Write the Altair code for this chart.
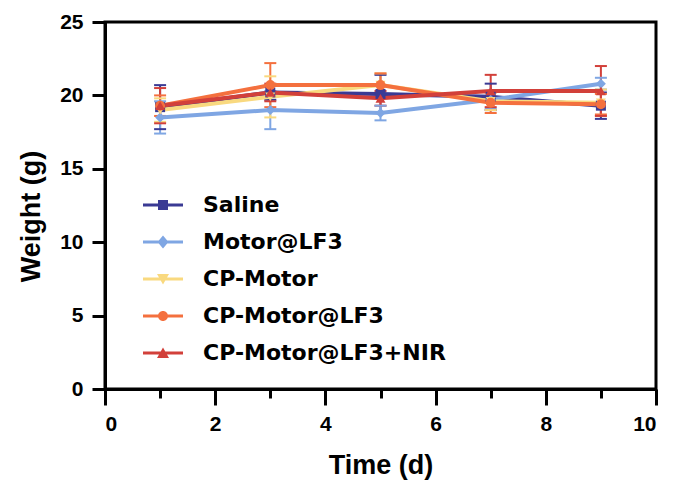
import altair as alt
import pandas as pd

# ---- data ----
days = [1, 3, 5, 7, 9]
series_names = ["Saline", "Motor@LF3", "CP-Motor", "CP-Motor@LF3", "CP-Motor@LF3+NIR"]
saline_mean = [19.2, 20.2, 20.1, 19.9, 19.3]
saline_err = [1.5, 0.5, 1.3, 0.9, 0.9]
motor_mean = [18.5, 19.0, 18.8, 19.7, 20.8]
motor_err = [1.1, 1.3, 0.5, 0.6, 0.4]
cpmotor_mean = [19.0, 19.9, 20.7, 19.6, 19.5]
cpmotor_err = [0.8, 1.4, 0.8, 0.6, 0.9]
cplf3_mean = [19.3, 20.7, 20.7, 19.5, 19.4]
cplf3_err = [0.7, 1.5, 0.8, 0.7, 0.7]
nir_mean = [19.3, 20.2, 19.8, 20.3, 20.3]
nir_err = [1.2, 0.6, 0.5, 1.1, 1.7]

x_ticks = [0, 1, 2, 3, 4, 5, 6, 7, 8, 9, 10]
y_ticks = [0, 2.5, 5, 7.5, 10, 12.5, 15, 17.5, 20, 22.5, 25]

colors = ["#3a3a94", "#7fa6e3", "#f9d97f", "#f4703e", "#d2403a"]
shapes = ["square", "diamond", "triangle-down", "circle", "triangle-up"]

means = [saline_mean, motor_mean, cpmotor_mean, cplf3_mean, nir_mean]
errs = [saline_err, motor_err, cpmotor_err, cplf3_err, nir_err]

rows = []
for k, name in enumerate(series_names):
    for d, m, e in zip(days, means[k], errs[k]):
        rows.append({"series": name, "day": d, "mean": m, "lo": m - e, "hi": m + e})
df = pd.DataFrame(rows)

# legend symbols: a line segment with the marker on it
line_part = "M-4,-0.32 L4,-0.32 L4,0.32 L-4,0.32 Z "
legend_paths = {
    "Saline": line_part + "M-1,-1 L1,-1 L1,1 L-1,1 Z",
    "Motor@LF3": line_part + "M0,-1.3 L1.1,0 L0,1.3 L-1.1,0 Z",
    "CP-Motor": line_part + "M-1.2,-1 L1.2,-1 L0,1.1 Z",
    "CP-Motor@LF3": line_part + "M-1,0 A1,1 0 1,1 1,0 A1,1 0 1,1 -1,0 Z",
    "CP-Motor@LF3+NIR": line_part + "M0,-1.1 L1.2,1 L-1.2,1 Z",
}
expr = ""
for name in series_names[:-1]:
    expr += "datum.value == '%s' ? '%s' : " % (name, legend_paths[name])
expr += "'%s'" % legend_paths[series_names[-1]]

font = "Liberation Sans"

x_enc = alt.X("day:Q", scale=alt.Scale(domain=[0, 10], nice=False),
              axis=alt.Axis(values=x_ticks, title="Time (d)",
                            labelExpr="datum.value % 2 == 0 ? datum.label : ''",
                            tickSize={"condition": {"test": "datum.value % 2 != 0", "value": 9}, "value": 16},
                            labelPadding=8, titlePadding=18, labelOverlap=False))
y_axis = alt.Axis(values=y_ticks, title="Weight (g)",
                  labelExpr="datum.value % 5 == 0 ? datum.label : ''",
                  tickSize={"condition": {"test": "datum.value % 5 != 0", "value": 8}, "value": 13},
                  labelPadding=9, titlePadding=14, labelOverlap=False, titleY=194)
y_scale = alt.Scale(domain=[0, 25], nice=False)
color_scale = alt.Scale(domain=series_names, range=colors)
color_plain = alt.Color("series:N", scale=color_scale)

base = alt.Chart(df)

# invisible layer that carries the legend
legend_layer = base.mark_point(filled=True, size=100, opacity=0).encode(
    x=x_enc,
    y=alt.Y("mean:Q", scale=y_scale, axis=y_axis),
    color=alt.Color("series:N", scale=color_scale, sort=series_names,
                    legend=alt.Legend(title=None, orient="none", legendX=47, legendY=172,
                                      symbolType={"expr": expr}, symbolSize=100,
                                      symbolStrokeWidth=0, symbolOpacity=1,
                                      labelFont="DejaVu Sans", labelFontSize=22,
                                      labelFontWeight="bold", labelColor="black",
                                      labelOffset=29, rowPadding=15, padding=0,
                                      labelLimit=400)),
)
rules = base.mark_rule(strokeWidth=2, opacity=1).encode(
    x="day:Q", y=alt.Y("lo:Q", scale=y_scale), y2="hi:Q", color=color_plain,
)
cap_lo = base.mark_tick(orient="horizontal", size=12, thickness=2, opacity=1).encode(
    x="day:Q", y=alt.Y("lo:Q", scale=y_scale), color=color_plain,
)
cap_hi = base.mark_tick(orient="horizontal", size=12, thickness=2, opacity=1).encode(
    x="day:Q", y=alt.Y("hi:Q", scale=y_scale), color=color_plain,
)
lines = base.mark_line(strokeWidth=4, opacity=1).encode(
    x="day:Q", y=alt.Y("mean:Q", scale=y_scale), color=color_plain, order="day:Q",
)
point_layers = []
for name, shp in zip(series_names, shapes):
    point_layers.append(
        base.transform_filter(alt.datum.series == name)
        .mark_point(filled=True, size=100, opacity=1, shape=shp)
        .encode(x="day:Q", y=alt.Y("mean:Q", scale=y_scale), color=color_plain)
    )

chart = alt.layer(legend_layer, rules, cap_lo, cap_hi, lines, *point_layers).properties(
    width=551, height=367,
    autosize=alt.AutoSizeParams(type="none"),
    padding={"left": 105, "top": 22, "right": 19, "bottom": 100},
).configure_view(
    stroke="black", strokeWidth=3
).configure_axis(
    grid=False, domainColor="black", domainWidth=3, tickColor="black", tickWidth=3,
    labelFont=font, labelFontWeight="bold", labelFontSize=21, labelColor="black",
    titleFont=font, titleFontWeight="bold", titleFontSize=27, titleColor="black",
)

chart.save("out.html", embed_options={"renderer": "svg", "actions": False})
